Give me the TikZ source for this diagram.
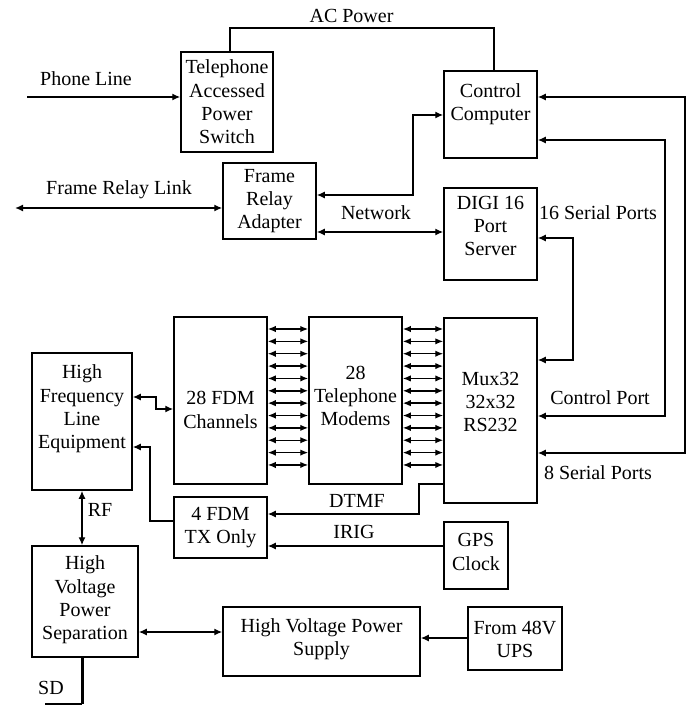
\documentclass[tikz,border=0pt]{standalone}
\usepackage{fontspec}
\setmainfont{Liberation Serif}
\usetikzlibrary{arrows.meta,fit}
\begin{document}
\begin{tikzpicture}[x=0.5pt,y=-0.5pt,
  >={Latex[length=4pt,width=3.5pt]},
  blk/.style={draw, line width=0.75pt, inner sep=0pt},
  txt/.style={align=center, inner sep=0pt, font=\fontsize{10}{11.7}\selectfont},
  conn/.style={line width=0.7pt},
  small/.style={>={Latex[length=4pt,width=3.2pt]}}]
\fill[white] (0,0) rectangle (694,705);
\useasboundingbox (0,0) rectangle (694,705);

% boxes
\node[blk, fit={(181,52)(273,152)}] (sw) {};
\node[txt] (sw-t) at (227,102) {Telephone\\Accessed\\Power\\Switch};
\node[blk, fit={(444,71)(537,158)}] (cc) {};
\node[txt] (cc-t) at (490.5,104) {Control\\Computer};
\node[blk, fit={(223,163)(316,239)}] (fr) {};
\node[txt] (fr-t) at (269.5,201) {Frame\\Relay\\Adapter};
\node[blk, fit={(444,188)(537,280)}] (digi) {};
\node[txt] (digi-t) at (490.5,226) {DIGI 16\\Port\\Server};
\node[blk, fit={(174,317)(267,484)}] (fdm28) {};
\node[txt] (fdm28-t) at (220.5,410) {28 FDM\\Channels};
\node[blk, fit={(309,317)(402,484)}] (modem) {};
\node[txt] (modem-t) at (355.5,396) {28\\Telephone\\Modems};
\node[blk, fit={(444,318)(537,503)}] (mux) {};
\node[txt] (mux-t) at (490.5,402) {Mux32\\32x32\\RS232};
\node[blk, fit={(32,353)(132,490)}] (hf) {};
\node[txt] (hf-t) at (82,409) {High\\Frequency\\Line\\Equipment};
\node[blk, fit={(174,497)(267,558)}] (fdm4) {};
\node[txt] (fdm4-t) at (220.5,527.5) {4 FDM\\TX Only};
\node[blk, fit={(444,522)(508,589)}] (gps) {};
\node[txt] (gps-t) at (476,552) {GPS\\Clock};
\node[blk, fit={(32,546)(138,657)}] (hvps) {};
\node[txt] (hvps-t) at (85,600) {High\\Voltage\\Power\\Separation};
\node[blk, fit={(223,607)(420,676)}] (hvsup) {};
\node[txt] (hvsup-t) at (321.5,639.5) {High Voltage Power\\Supply};
\node[blk, fit={(468,607)(562,670)}] (ups) {};
\node[txt] (ups-t) at (515,639.5) {From 48V\\UPS};

% free ends
\coordinate (pl) at (27,97);
\coordinate (frl) at (15,208);
\coordinate (sdend) at (45,704);

% connectors
\draw[conn,->] (pl) -- (pl -| sw.west);
\draw[conn] (sw.north -| 230,0) -- (230,28) -| (cc.north -| 494,0);
\draw[conn,<->] (frl) -- (frl -| fr.west);
\draw[conn,<->] (fr.east |- 0,195) -- (413,195) |- (cc.west |- 0,115);
\draw[conn,<->] (fr.east |- 0,232) -- (digi.west |- 0,232);
\draw[conn,<->] (digi.east |- 0,238) -- (573,238) |- (mux.east |- 0,360);
\draw[conn,<->] (cc.east |- 0,97) -- (685,97) |- (mux.east |- 0,453);
\draw[conn,<->] (cc.east |- 0,140) -- (665,140) |- (mux.east |- 0,416);
\foreach \i [evaluate=\i as \yy using 329+\i*12.36] in {0,...,11} {
  \draw[conn,small,<->] (fdm28.east |- 0,\yy) -- (modem.west |- 0,\yy);
  \draw[conn,small,<->] (modem.east |- 0,\yy) -- (mux.west |- 0,\yy);
}
\draw[conn,<->] (hf.east |- 0,397) -- (156,397) |- (fdm28.west |- 0,409);
\draw[conn,->] (fdm4.west |- 0,521) -- (150,521) |- (hf.east |- 0,447);
\draw[conn,->] (mux.west |- 0,484) -- (419,484) |- (fdm4.east |- 0,514);
\draw[conn,->] (gps.west |- 0,546) -- (fdm4.east |- 0,546);
\draw[conn,<->] (hf.south) -- (hf.south |- hvps.north);
\draw[conn,<->] (hvps.east |- 0,632) -- (hvsup.west |- 0,632);
\draw[conn,->] (ups.west |- 0,638) -- (hvsup.east |- 0,638);
\draw[line width=1.5pt] (hvps.south -| hf.south) -- (hf.south |- sdend);
\draw[conn] (sdend) -- (hf.south |- sdend);

% labels
\node[txt] (l-pl) at (86,79) {Phone Line};
\node[txt] (l-ac) at (351.5,16) {AC Power};
\node[txt] (l-frl) at (119,190) {Frame Relay Link};
\node[txt] (l-net) at (376,213) {Network};
\node[txt] (l-16) at (598,213) {16 Serial Ports};
\node[txt] (l-cp) at (600,398) {Control Port};
\node[txt] (l-8) at (598,473) {8 Serial Ports};
\node[txt] (l-dtmf) at (357,501) {DTMF};
\node[txt] (l-irig) at (354,532) {IRIG};
\node[txt] (l-rf) at (100,510) {RF};
\node[txt] (l-sd) at (51,688) {SD};
\end{tikzpicture}
\end{document}
